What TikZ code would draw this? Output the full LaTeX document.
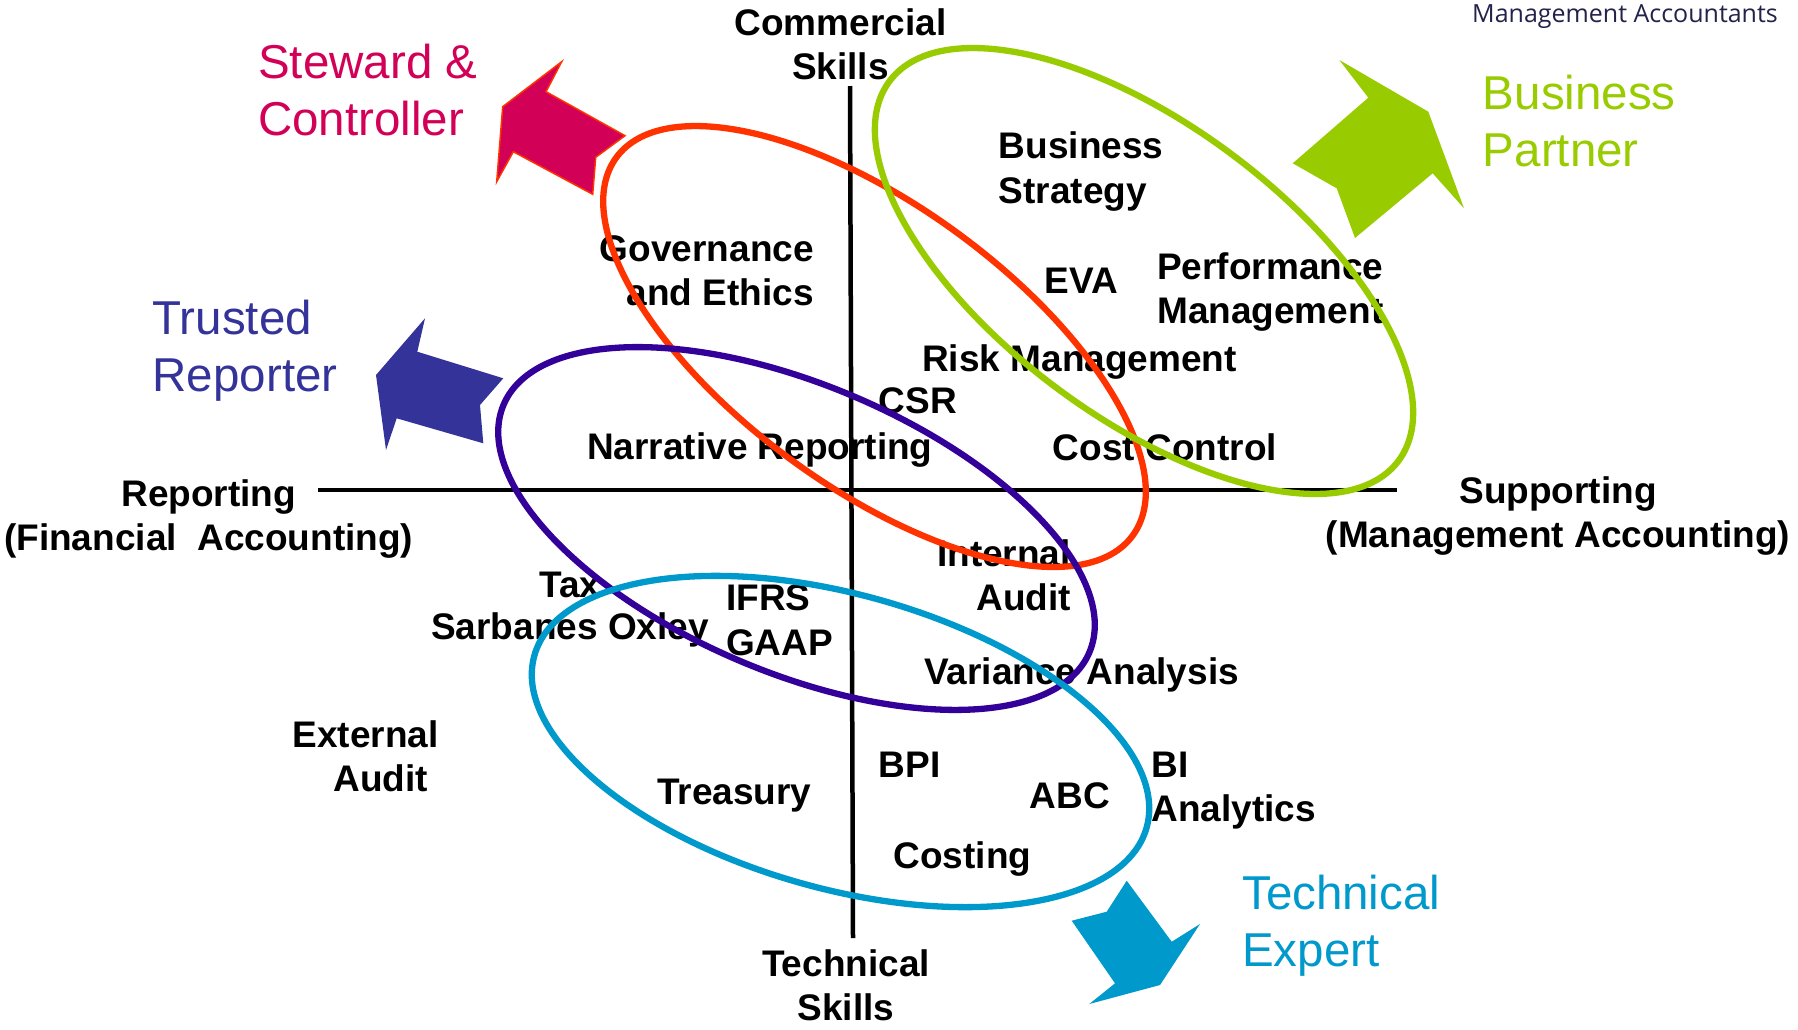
\documentclass[tikz,border=0pt]{standalone}
\usepackage{fontspec}
\setmainfont{Liberation Sans}
\newfontfamily\macfont{Open Sans}
\definecolor{ringred}{HTML}{FF3300}
\definecolor{ringgreen}{HTML}{99CC00}
\definecolor{ringpurple}{HTML}{330099}
\definecolor{ringblue}{HTML}{0099CC}
\definecolor{stewardc}{HTML}{D20057}
\definecolor{trustedc}{HTML}{333399}
\definecolor{partnerc}{HTML}{99CC00}
\definecolor{expertc}{HTML}{0099CC}
\definecolor{macc}{HTML}{22234A}
\begin{document}
\begin{tikzpicture}[x=1pt,y=-1pt,
  lbl/.style={font=\fontsize{37}{44.6}\selectfont\bfseries, inner sep=0pt, text=black},
  role/.style={font=\fontsize{47.5}{57}\selectfont, inner sep=0pt, align=left, anchor=base west},
  ring/.style={line width=6.3pt},
  axisline/.style={line width=4.5pt, black},
]
\fill[white] (0,0) rectangle (1798,1029);
\useasboundingbox (0,0) rectangle (1798,1029);

% axes
\coordinate (vtop) at (850,86);
\coordinate (vbot) at (853,938);
\coordinate (hleft) at (318,490);
\coordinate (hright) at (1397,490);
\draw[axisline] (vtop) -- (vbot);
\draw[axisline] (hleft) -- (hright);

% header
\node[font=\macfont\fontsize{25}{30}\selectfont, text=macc, anchor=base west, inner sep=0pt] (mgmt) at (1472,22.5) {Management Accountants};

% role labels (base anchor = last line baseline)
\node[role, text=stewardc] (steward) at (258,135) {Steward \&\\Controller};
\node[role, text=partnerc] (partner) at (1482.7,166) {Business\\Partner};
\node[role, text=trustedc] (trusted) at (152.5,391) {Trusted\\Reporter};
\node[role, text=expertc] (expert) at (1242,966.4) {Technical\\Expert};

% axis labels
\node[lbl, align=center, anchor=base] (commercial) at (840.5,79.6) {Commercial\\Skills};
\node[lbl, align=center, anchor=base] (technical) at (846,1020.6) {Technical\\Skills};
\node[lbl, align=center, anchor=base] (reporting) at (208.7,550.6) {Reporting\\(Financial~ Accounting)};
\node[lbl, align=center, anchor=base] (supporting) at (1558,547.6) {Supporting\\(Management Accounting)};

% topic labels
\node[lbl, align=left, anchor=base west] (bstrat) at (998.7,203.4) {Business\\Strategy};
\node[lbl, align=right, anchor=base east] (gov) at (814,305.6) {Governance\\and Ethics};
\node[lbl, anchor=base west] (eva) at (1044.6,293) {EVA};
\node[lbl, align=left, anchor=base west] (perf) at (1157,323.6) {Performance\\Management};
\node[lbl, anchor=base west] (risk) at (922,371) {Risk Management};
\node[lbl, anchor=base west] (csr) at (878.4,413) {CSR};
\node[lbl, anchor=base west] (narr) at (587,459) {Narrative Reporting};
\node[lbl, anchor=base west] (cost) at (1052.7,460) {Cost Control};
\node[lbl, align=right, anchor=base east] (internal) at (1071,610.6) {Internal\\Audit};
\node[lbl, anchor=base west] (tax) at (539,597) {Tax};
\node[lbl, anchor=base west] (sox) at (431,639) {Sarbanes Oxley};
\node[lbl, align=left, anchor=base west] (ifrs) at (726,655.2) {IFRS\\GAAP};
\node[lbl, anchor=base west] (variance) at (924,684) {Variance Analysis};
\node[lbl, align=left, anchor=base west] (extaudit) at (292.4,791.6) {External\\\hspace*{41pt}Audit};
\node[lbl, anchor=base west] (treasury) at (657,804) {Treasury};
\node[lbl, anchor=base west] (bpi) at (878.4,777) {BPI};
\node[lbl, anchor=base west] (abc) at (1029.7,808) {ABC};
\node[lbl, align=left, anchor=base west] (bi) at (1151.3,821.6) {BI\\Analytics};
\node[lbl, anchor=base west] (costing) at (893.3,868.6) {Costing};

% ellipses
\draw[ring, ringred, rotate around={-36.2:(874.5,346.5)}] (874.5,346.5) ellipse [x radius=320pt, y radius=140.6pt];
\draw[ring, ringgreen, rotate around={-36.7:(1144,271)}] (1144,271) ellipse [x radius=317.5pt, y radius=146pt];
\draw[ring, ringpurple, rotate around={-22.9:(796.5,528.5)}] (796.5,528.5) ellipse [x radius=318pt, y radius=144pt];
\draw[ring, ringblue, rotate around={-15.7:(840.5,741.5)}] (840.5,741.5) ellipse [x radius=318pt, y radius=147pt];

% arrows
\filldraw[fill=stewardc, draw=ringred, line width=1.5pt, line join=miter]
  (561.7,61.7) -- (546,91.7) -- (625,135.7) -- (595.7,157.3) -- (592.7,194.3)
  -- (513.3,151.7) -- (496.7,181.7) -- (502.7,106.7) -- cycle;
\fill[partnerc]
  (1339.3,60) -- (1368.3,97.7) -- (1292.7,163.3) -- (1336.7,188.3) -- (1355,238)
  -- (1432.7,173.3) -- (1464,208.3) -- (1428.3,111.7) -- cycle;
\fill[trustedc]
  (425,318.3) -- (417.3,351.7) -- (503.3,378.3) -- (480,405) -- (483.3,443.3)
  -- (396.7,418.3) -- (386,450) -- (376,375) -- cycle;
\fill[expertc]
  (1126.7,880.7) -- (1106.7,911.7) -- (1071.7,920.7) -- (1115,983.3) -- (1089.3,1004)
  -- (1160,985) -- (1200,924) -- (1171.7,941.7) -- cycle;
\end{tikzpicture}
\end{document}
